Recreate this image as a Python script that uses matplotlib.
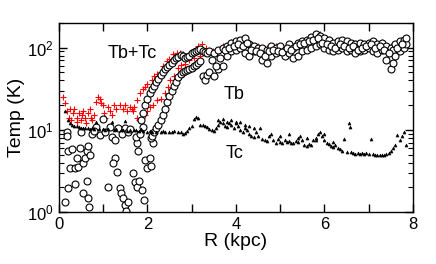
import matplotlib
matplotlib.use("Agg")
import matplotlib.pyplot as plt
from matplotlib.ticker import MultipleLocator, LogLocator, NullFormatter

plt.rcParams['font.family'] = ['Liberation Sans', 'DejaVu Sans']
plt.rcParams['mathtext.fontset'] = 'custom'
plt.rcParams['mathtext.rm'] = 'Liberation Sans'
plt.rcParams['mathtext.it'] = 'Liberation Sans:italic'

# Tb+Tc (red plus)
r_tot = [0.10, 0.14, 0.18, 0.22, 0.25, 0.28, 0.32, 0.35, 0.40, 0.42, 0.45, 0.50, 0.52, 0.55,
         0.60, 0.62, 0.65, 0.70, 0.72, 0.75, 0.80, 0.85, 0.88, 0.92, 0.95, 1.00, 1.02, 1.05,
         1.10, 1.15, 1.20, 1.25, 1.30, 1.38, 1.45, 1.50, 1.55, 1.60, 1.65, 1.70,
         1.68, 1.76, 1.83, 1.90, 1.94, 2.00, 2.10, 2.16, 2.22, 2.30, 2.36, 2.44, 2.50, 2.59,
         2.66, 2.73, 2.81, 2.90, 2.98, 3.05, 3.15, 3.23, 3.33, 3.48,
         1.76, 1.80, 1.88, 1.95, 2.00, 2.06, 2.12, 2.22, 2.30, 2.40, 2.47, 2.51, 2.60, 2.70,
         2.77, 2.85, 2.95, 3.05, 3.20, 3.40, 3.55,
         3.7, 3.9, 4.1, 4.3, 4.5, 4.7, 4.9, 5.1, 5.3, 5.5, 5.7, 5.9, 6.1, 6.3, 6.5, 6.7,
         6.9, 7.1, 7.3, 7.5, 7.7, 7.85]
t_tot = [25, 21, 17, 14, 18, 13, 16, 18, 14, 12.5, 16, 13, 15, 17,
         14, 12, 16, 18, 14, 13, 15, 22, 25, 24, 21, 20, 16, 14,
         19, 17, 15, 20, 18, 20, 18, 20, 17, 19, 18, 19,
         17, 23, 28, 31, 33, 36, 40, 45, 48, 50, 60, 69, 72, 84,
         86, 85, 84, 77, 80, 92, 105, 110, 100, 91,
         14, 13, 16, 15, 17, 19, 20, 23, 24, 28, 33, 40, 45, 57,
         62, 64, 70, 75, 80, 85, 60,
         105, 118, 125, 112, 105, 98, 104, 100, 104, 120, 134, 145, 126, 122, 122, 113,
         112, 121, 116, 104, 122, 132]

# Tb (open circles)
r_b = [0.14, 0.20, 0.25, 0.20, 0.18, 0.19, 0.36, 0.36, 0.40, 0.48, 0.43, 0.55, 0.59, 0.63,
       0.55, 0.66, 0.69, 0.64, 0.70, 0.66, 0.74, 0.85, 0.92, 1.04, 1.00, 1.15, 1.19, 1.26,
       1.34, 1.26, 1.23, 1.31, 1.10, 1.38, 1.40, 1.44, 1.50, 1.52, 1.57, 1.42, 1.49, 1.57,
       1.67, 1.72, 1.76, 1.81, 1.76, 1.79, 1.74, 1.83, 1.90, 1.88, 1.92, 1.94, 1.99, 2.06,
       2.09, 2.13, 2.09, 0.30, 0.50, 0.80, 1.60,
       1.85, 1.90, 1.95, 2.00, 2.05, 2.10, 2.15, 2.20, 2.25, 2.30, 2.35, 2.40, 2.45, 2.50,
       2.55, 2.60, 2.65, 2.70, 2.75, 2.80, 2.85, 2.90, 2.95, 3.00, 3.05, 3.10, 3.15, 3.20,
       3.25, 3.30, 3.35,
       2.10, 2.15, 2.20, 2.25, 2.30, 2.35, 2.40, 2.45, 2.50, 2.55, 2.60, 2.65, 2.70, 2.75,
       2.80, 2.85, 2.90, 2.95, 3.00, 3.05, 3.10, 3.15, 3.20, 3.25, 3.30, 3.35,
       3.40, 3.40, 3.50, 3.50, 3.60, 3.60, 3.70, 3.70, 3.80, 3.80, 3.90, 3.90, 4.00, 4.00,
       4.10, 4.10, 4.20, 4.20, 4.30, 4.30, 4.40, 4.40, 4.50, 4.50, 4.60, 4.60, 4.70, 4.70,
       4.80, 4.80, 4.90, 4.90, 5.00, 5.00, 5.10, 5.10, 5.20, 5.20, 5.30, 5.30, 5.40, 5.40,
       5.50, 5.50, 5.60, 5.60, 5.70, 5.70, 5.80, 5.80, 5.90, 5.90, 6.00, 6.00, 6.10, 6.10,
       6.20, 6.20, 6.30, 6.30, 6.40, 6.40, 6.50, 6.50, 6.60, 6.60, 6.70, 6.70, 6.80, 6.80,
       6.90, 6.90, 7.00, 7.00, 7.10, 7.10, 7.20, 7.20, 7.30, 7.30, 7.40, 7.40, 7.50, 7.50,
       7.55, 7.55, 7.60, 7.60, 7.70, 7.70, 7.80, 7.80, 7.85, 7.85,
       3.45, 3.55, 3.65, 3.75, 3.85, 3.95, 4.05, 4.15, 4.25, 4.35, 4.45, 4.55, 4.65, 4.75,
       4.85, 4.95, 5.05, 5.15, 5.25, 5.35, 5.45, 5.55, 5.65, 5.75, 5.85, 5.95, 6.05, 6.15,
       6.25, 6.35, 6.45, 6.55, 6.65, 6.75, 6.85, 6.95, 7.05, 7.15, 7.25, 7.35, 7.45, 7.65,
       7.75]
t_b = [1.32, 1.95, 3.4, 5.6, 9.3, 8.3, 2.2, 3.4, 4.6, 6.0, 3.5, 3.9, 4.6, 5.6,
       1.7, 1.5, 1.15, 2.4, 5.0, 6.3, 9.0, 10.7, 8.6, 9.3, 13.6, 10.7, 8.1, 7.5,
       10.4, 4.6, 3.9, 3.1, 2.0, 1.95, 1.7, 1.5, 1.2, 1.03, 1.32, 9.0, 10.4, 9.3,
       3.0, 2.3, 2.0, 2.4, 6.9, 5.6, 8.1, 9.0, 10.7, 1.85, 1.4, 4.3, 3.4, 4.6,
       3.6, 6.9, 8.0, 5.8, 9.5, 9.8, 10.2,
       13, 16, 20, 24, 28, 31, 34, 38, 42, 46, 50, 55, 58, 62,
       66, 70, 74, 78, 82, 80, 75, 78, 80, 85, 88, 92, 95, 96,
       92, 88, 85,
       8.5, 9.5, 10.5, 11.5, 13, 15, 18, 22, 26, 30, 34, 38, 44, 48,
       50, 52, 54, 55, 57, 60, 62, 65, 68, 45, 40, 46,
       50, 90, 45, 85, 55, 95, 60, 100, 80, 105, 90, 115, 95, 120,
       100, 125, 85, 130, 80, 110, 90, 105, 95, 100, 70, 100, 65, 95,
       80, 105, 85, 100, 90, 105, 80, 95, 85, 110, 75, 100, 80, 115,
       90, 120, 95, 125, 100, 135, 105, 145, 110, 140, 100, 130, 95, 125,
       90, 115, 95, 120, 100, 125, 90, 120, 95, 115, 85, 110, 90, 115,
       95, 110, 100, 115, 90, 120, 85, 110, 95, 115, 70, 105, 55, 100,
       65, 95, 80, 110, 90, 120, 100, 125, 110, 130,
       70, 60, 75, 95, 100, 105, 110, 105, 115, 95, 90, 85, 80, 90,
       95, 92, 88, 100, 95, 105, 110, 115, 120, 125, 130, 115, 110, 105,
       100, 110, 105, 100, 105, 95, 100, 105, 110, 100, 105, 95, 85, 100,
       110]

# Tc (small triangles)
r_c = [0.15, 0.20, 0.25, 0.30, 0.35, 0.40, 0.45, 0.50, 0.55, 0.60, 0.65, 0.70, 0.75, 0.80,
       0.85, 0.90, 1.00, 1.05, 1.10, 1.20, 1.25, 1.30, 1.40, 1.45, 1.50, 1.55, 1.60, 1.70,
       1.75, 1.80, 1.85, 1.90, 2.00, 2.05, 2.10, 2.20, 2.30, 2.35, 2.40, 2.50, 2.55, 2.60,
       2.70, 2.75, 2.80, 2.85, 2.90, 2.95, 3.00, 3.05, 3.10, 3.15, 3.20, 3.25, 3.30, 3.35,
       3.40, 3.45, 3.50, 3.55, 3.60, 3.65, 3.70, 3.75, 3.80, 3.85, 3.90, 3.95, 4.00, 4.05,
       4.10, 4.15, 4.20, 4.25, 4.30, 4.35, 4.40, 4.45, 4.50, 4.55, 4.60, 4.65, 4.70, 4.75,
       4.80, 4.85, 4.90, 4.95, 5.00, 5.05, 5.10, 5.15, 5.20, 5.25, 5.30, 5.35, 5.40, 5.45,
       5.50, 5.55, 5.60, 5.65, 5.70, 5.75, 5.80, 5.85, 5.90, 5.95, 6.00, 6.05, 6.10, 6.15,
       6.20, 6.25, 6.30, 6.35, 6.40, 6.45, 6.50, 6.55, 6.57, 6.60, 6.65, 6.70, 6.75, 6.80,
       6.85, 6.90, 6.95, 7.00, 7.05, 7.10, 7.15, 7.20, 7.25, 7.30, 7.35, 7.40, 7.45, 7.50,
       7.55, 7.60, 7.65, 7.70, 7.75, 7.80, 7.85,
       3.60, 3.70, 3.80, 3.90, 4.00, 4.10, 4.20, 4.30, 4.40, 5.00, 5.20, 5.40, 5.60, 5.80,
       6.00, 6.20]
t_c = [17, 13, 12, 11.5, 11, 11, 10.8, 10.5, 10.6, 10.4, 10.5, 10.3, 10.4, 10.2,
       12.5, 10.3, 10.2, 10.0, 10.1, 12.5, 10.0, 10.1, 9.9, 10.0, 12.8, 9.8, 10.0, 10.0,
       9.9, 9.7, 10.2, 9.6, 9.5, 9.7, 9.4, 9.5, 9.3, 9.6, 9.4, 9.5, 9.3, 9.6,
       9.4, 9.5, 9.0, 9.2, 9.8, 10.5, 11.0, 13.5, 14.5, 13.8, 11.5, 11.3, 11.0, 10.7,
       10.2, 10.0, 9.8, 10.5, 11.5, 12.5, 12.0, 11.2, 10.8, 12.0, 11.5, 10.5, 12.5, 11.0,
       10.0, 9.5, 10.5, 10.0, 9.0, 8.5, 8.2, 9.5, 8.5, 10.5, 7.8, 7.5, 7.3, 8.3,
       8.8, 7.5, 7.0, 7.8, 7.2, 7.0, 7.6, 7.2, 7.3, 7.0, 6.9, 7.4, 7.1, 8.5,
       7.5, 6.6, 6.4, 6.8, 6.5, 7.5, 8.0, 9.0, 9.5, 8.5, 7.5, 7.0, 6.8, 6.4,
       6.2, 6.6, 6.0, 5.8, 5.6, 7.8, 5.4, 12.0, 10.8, 5.3, 5.2, 5.1, 5.2, 5.1,
       5.2, 5.1, 5.2, 5.1, 7.8, 5.1, 5.0, 5.0, 4.9, 5.0, 5.0, 5.1, 5.2, 5.5,
       6.0, 6.5, 8.6, 7.5, 8.5, 9.3, 6.5,
       13.0, 13.5, 12.5, 13.0, 12.0, 12.5, 11.5, 11.0, 10.5, 8.5, 8.8, 8.0, 8.0, 7.5,
       9.0, 7.2]

fig = plt.figure(figsize=(4.36, 2.64), dpi=100)
ax = fig.add_axes([0.135, 0.197, 0.812, 0.716])

ax.plot(r_tot, t_tot, '+', color='red', markersize=4.5, markeredgewidth=0.8)
ax.plot(r_b, t_b, 'o', markerfacecolor='white', markeredgecolor='black',
        markersize=5, markeredgewidth=0.8)
ax.plot(r_c, t_c, '^', color='black', markersize=2.2, markeredgewidth=0.4)

ax.set_yscale('log')
ax.set_xlim(0, 8)
ax.set_ylim(1, 200)
ax.xaxis.set_major_locator(MultipleLocator(2))
ax.xaxis.set_minor_locator(MultipleLocator(1))
ax.yaxis.set_major_locator(LogLocator(base=10, numticks=5))
ax.yaxis.set_minor_locator(LogLocator(base=10, subs=range(2, 10), numticks=20))
ax.yaxis.set_minor_formatter(NullFormatter())
ax.tick_params(which='major', direction='in', top=True, right=True, length=6, width=1,
               labelsize=12)
ax.tick_params(axis='x', which='major', pad=3.5)
ax.tick_params(axis='y', which='major', pad=4)
ax.tick_params(axis='x', which='minor', direction='in', top=True, length=6, width=1)
ax.tick_params(axis='y', which='minor', direction='in', right=True, length=3.5, width=0.8)
for s in ax.spines.values():
    s.set_linewidth(1.0)

ax.set_xlabel('R (kpc)', fontsize=14, labelpad=1)
ax.set_ylabel('Temp (K)', fontsize=14, labelpad=1)

ax.text(1.1, 85, 'Tb+Tc', fontsize=13, va='center')
ax.text(3.73, 27, 'Tb', fontsize=13, va='center')
ax.text(3.76, 5.2, 'Tc', fontsize=13, va='center')

fig.savefig('out.png', dpi=100)
